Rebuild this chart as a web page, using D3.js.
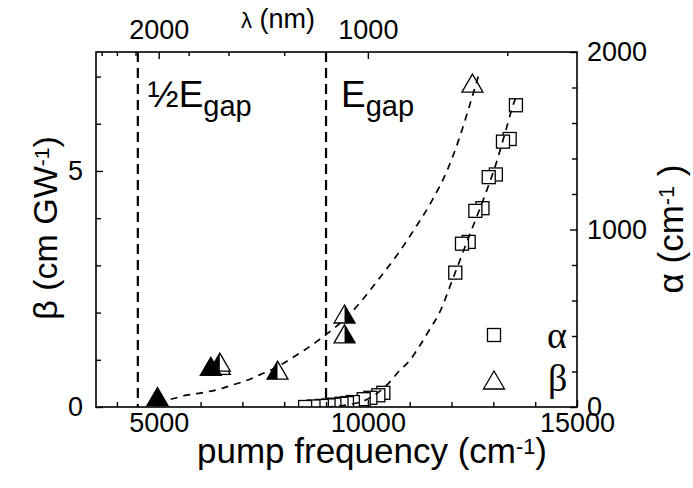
<!DOCTYPE html>
<html>
<head>
<meta charset="utf-8">
<script src="https://cdn.jsdelivr.net/npm/d3@7"></script>
<style>
  html, body { margin: 0; padding: 0; background: #fff; }
  svg { display: block; }
  text { font-family: "Liberation Sans", Arial, sans-serif; fill: #000; }
  .serif { font-family: "Liberation Serif", "Times New Roman", serif; }
</style>
</head>
<body>
<svg id="chart" width="693" height="488"></svg>
<script>
// ---- data ----
// two-photon absorption coefficient beta (cm/GW), triangles by sample group
const betaFullNu   = [4970, 6245];
const betaFullVal  = [0.22, 0.86];
const betaLeftNu   = [6460, 6460, 7840];
const betaLeftVal  = [0.88, 0.95, 0.78];
const betaRightNu  = [9443, 9443];
const betaRightVal = [1.55, 1.97];
const betaOpenNu   = [12500];
const betaOpenVal  = [6.86];

// linear absorption alpha (cm^-1), squares
const alphaNu  = [8500, 8700, 8900, 9060, 9200, 9370, 9500, 9640, 9900, 10060, 10250, 10370,
                  12090, 12250, 12410, 12570, 12740, 12890, 13060, 13230, 13390, 13540];
const alphaVal = [0, 3, 6, 9, 13, 18, 22, 28, 44, 52, 66, 80,
                  757, 920, 930, 1105, 1120, 1295, 1310, 1495, 1510, 1700];

// dashed guide curves through the two data sets
const betaFitNu  = [4980, 5266, 5665, 6023, 6419, 6777, 7096, 7414, 7772, 8170, 8767, 9600,
                    10400, 10700, 11100, 11500, 11900, 12200, 12450, 12680];
const betaFitVal = [0.12, 0.16, 0.25, 0.30, 0.37, 0.47, 0.56, 0.68, 0.82, 1.03, 1.38, 2.0,
                    2.87, 3.22, 3.75, 4.32, 5.02, 5.73, 6.44, 7.12];
const alphaFitNu  = [9000, 9500, 10000, 10500, 10755, 11000, 11200, 11470, 11710, 12020,
                     12400, 12665, 13063, 13300, 13460, 13560];
const alphaFitVal = [0, 12, 45, 135, 205, 262, 330, 434, 530, 715,
                     950, 1110, 1370, 1560, 1692, 1760];

// reference energies (cm^-1)
const gapLines  = [4500, 9000];
const gapLabels = ["½E", "E"];

// axis ticks
const xMajor = [5000, 10000, 15000];
const xMinor = [4000, 6000, 7000, 8000, 9000, 11000, 12000, 13000, 14000];
const betaMajor = [0, 5];
const betaMinor = [1, 2, 3, 4, 6, 7];
const alphaMajor = [0, 1000, 2000];
const alphaMinor = [200, 400, 600, 800, 1200, 1400, 1600, 1800];
const lambdaMajor = [2000, 1000];
const lambdaMinor = [2750, 2500, 2250, 1750, 1500, 1250, 750];

// ---- layout ----
const svg = d3.select("#chart");
const L = 96, R = 577, T = 52, B = 407;

const x = d3.scaleLinear().domain([3500, 15000]).range([L, R]);
const yB = d3.scaleLinear().domain([0, 7.52]).range([B, T]);
const yA = d3.scaleLinear().domain([0, 2000]).range([B, T]);
const nuFromLambda = l => 1e7 / l;

const tickFont = 27;

svg.append("defs").append("clipPath").attr("id", "plotClip")
  .append("rect").attr("x", L).attr("y", T).attr("width", R - L).attr("height", B - T);

// vertical gap lines
svg.append("g").selectAll("line").data(gapLines).join("line")
  .attr("x1", d => x(d)).attr("x2", d => x(d))
  .attr("y1", T).attr("y2", B)
  .attr("stroke", "#000").attr("stroke-width", 2.2)
  .attr("stroke-dasharray", "10,6");

// gap labels
const labelOffset = [10, 15];
const gl = svg.append("g");
gapLabels.forEach((lab, i) => {
  const t = gl.append("text").attr("x", x(gapLines[i]) + labelOffset[i]).attr("y", 107)
    .attr("font-size", 37);
  t.append("tspan").text(lab);
  t.append("tspan").attr("font-size", 29).attr("dy", 9).text("gap");
});

const plot = svg.append("g").attr("clip-path", "url(#plotClip)");

// alpha squares (higher frequency first so lower ones sit on top)
const sqSide = 13;
const alphaPts = d3.range(alphaNu.length).map(i => ({nu: alphaNu[i], v: alphaVal[i]}))
  .sort((a, b) => b.nu - a.nu);
plot.append("g").selectAll("rect").data(alphaPts).join("rect")
  .attr("x", d => x(d.nu) - sqSide / 2).attr("y", d => yA(d.v) - sqSide / 2)
  .attr("width", sqSide).attr("height", sqSide)
  .attr("fill", "#fff").attr("stroke", "#000").attr("stroke-width", 1.3);

// beta triangles: width tw, height th, centred on the point
const tw = 21, th = 18;
const triPath = () => `M0,${-th / 2}L${tw / 2},${th / 2}L${-tw / 2},${th / 2}Z`;
const leftHalf = () => `M0,${-th / 2}L0,${th / 2}L${-tw / 2},${th / 2}Z`;
const rightHalf = () => `M0,${-th / 2}L${tw / 2},${th / 2}L0,${th / 2}Z`;

function drawTriangles(nu, val, half) {
  const pts = d3.range(nu.length).map(i => ({nu: nu[i], v: val[i]}));
  const g = plot.append("g").selectAll("g").data(pts).join("g")
    .attr("transform", d => `translate(${x(d.nu)},${yB(d.v)})`);
  g.append("path").attr("d", triPath).attr("fill", half === "full" ? "#000" : "#fff")
    .attr("stroke", "#000").attr("stroke-width", 1.3).attr("stroke-linejoin", "miter");
  if (half === "left") g.append("path").attr("d", leftHalf).attr("fill", "#000");
  if (half === "right") g.append("path").attr("d", rightHalf).attr("fill", "#000");
}
drawTriangles(betaOpenNu, betaOpenVal, "open");
drawTriangles(betaLeftNu, betaLeftVal, "left");
drawTriangles(betaRightNu, betaRightVal, "right");
drawTriangles(betaFullNu, betaFullVal, "full");

// dashed guide curves
const betaLine = d3.line().x((d, i) => x(betaFitNu[i])).y((d, i) => yB(betaFitVal[i]))
  .curve(d3.curveMonotoneX);
const alphaLine = d3.line().x((d, i) => x(alphaFitNu[i])).y((d, i) => yA(alphaFitVal[i]))
  .curve(d3.curveMonotoneX);
plot.append("path").attr("d", betaLine(betaFitNu))
  .attr("fill", "none").attr("stroke", "#000").attr("stroke-width", 1.7).attr("stroke-dasharray", "7,6");
plot.append("path").attr("d", alphaLine(alphaFitNu))
  .attr("fill", "none").attr("stroke", "#000").attr("stroke-width", 1.7).attr("stroke-dasharray", "7,6");

// ---- axes ----
function styleAxis(g) {
  g.select(".domain").remove();
  g.selectAll("line").attr("stroke", "#000").attr("stroke-width", 1.4);
  g.selectAll("text").attr("font-size", tickFont).attr("font-family", "Liberation Sans, Arial, sans-serif");
}

// bottom
svg.append("g").attr("transform", `translate(0,${B})`)
  .call(d3.axisBottom(x).tickValues(xMinor).tickSizeInner(-5).tickFormat(""))
  .call(styleAxis);
svg.append("g").attr("transform", `translate(0,${B})`)
  .call(d3.axisBottom(x).tickValues(xMajor).tickSizeInner(-7).tickPadding(6).tickFormat(d3.format("d")))
  .call(styleAxis);

// left (beta)
svg.append("g").attr("transform", `translate(${L},0)`)
  .call(d3.axisLeft(yB).tickValues(betaMinor).tickSizeInner(-5).tickFormat(""))
  .call(styleAxis);
svg.append("g").attr("transform", `translate(${L},0)`)
  .call(d3.axisLeft(yB).tickValues(betaMajor).tickSizeInner(-7).tickPadding(13).tickFormat(d3.format("d")))
  .call(styleAxis);

// right (alpha)
svg.append("g").attr("transform", `translate(${R},0)`)
  .call(d3.axisRight(yA).tickValues(alphaMinor).tickSizeInner(-5).tickFormat(""))
  .call(styleAxis);
svg.append("g").attr("transform", `translate(${R},0)`)
  .call(d3.axisRight(yA).tickValues(alphaMajor).tickSizeInner(-7).tickPadding(10).tickFormat(d3.format("d")))
  .call(styleAxis);

// top (wavelength)
svg.append("g").attr("transform", `translate(0,${T})`)
  .call(d3.axisTop(x).tickValues(lambdaMinor.map(nuFromLambda)).tickSizeInner(-4).tickFormat(""))
  .call(styleAxis);
svg.append("g").attr("transform", `translate(0,${T})`)
  .call(d3.axisTop(x).tickValues(lambdaMajor.map(nuFromLambda)).tickSizeInner(-7).tickPadding(13)
    .tickFormat(d => d3.format("d")(Math.round(1e7 / d))))
  .call(styleAxis);

// frame
svg.append("rect").attr("x", L).attr("y", T).attr("width", R - L).attr("height", B - T)
  .attr("fill", "none").attr("stroke", "#000").attr("stroke-width", 1.6);

// ---- titles ----
function titleWithSup(sel, before, after) {
  sel.append("tspan").text(before);
  sel.append("tspan").attr("font-size", "0.62em").attr("dy", "-0.4em").text("-1");
  sel.append("tspan").attr("dy", "0.25em").text(after);
}

const xt = svg.append("text").attr("x", 372).attr("y", 463)
  .attr("text-anchor", "middle").attr("font-size", 35);
titleWithSup(xt, "pump frequency (cm", ")");

const yt = svg.append("text").attr("transform", "translate(57,228) rotate(-90)")
  .attr("text-anchor", "middle").attr("font-size", 34);
titleWithSup(yt, "β (cm GW", ")");

const at = svg.append("text").attr("transform", "translate(683,229) rotate(-90)")
  .attr("text-anchor", "middle").attr("font-size", 35);
titleWithSup(at, "α (cm", " )");

const lam = svg.append("text").attr("x", 278).attr("y", 28).attr("text-anchor", "middle")
  .attr("font-size", 27);
lam.append("tspan").attr("font-size", 22).text("λ");
lam.append("tspan").text(" (nm)");

// ---- legend ----
const lg = svg.append("g");
lg.append("rect").attr("x", 494 - sqSide / 2).attr("y", 335 - sqSide / 2)
  .attr("width", sqSide).attr("height", sqSide)
  .attr("fill", "#fff").attr("stroke", "#000").attr("stroke-width", 1.3);
lg.append("path").attr("d", triPath).attr("transform", "translate(494,380)")
  .attr("fill", "#fff").attr("stroke", "#000").attr("stroke-width", 1.3);
lg.append("text").attr("class", "serif").attr("x", 547).attr("y", 348).attr("font-size", 38).text("α");
lg.append("text").attr("class", "serif").attr("x", 548).attr("y", 391).attr("font-size", 38).text("β");
</script>
</body>
</html>
